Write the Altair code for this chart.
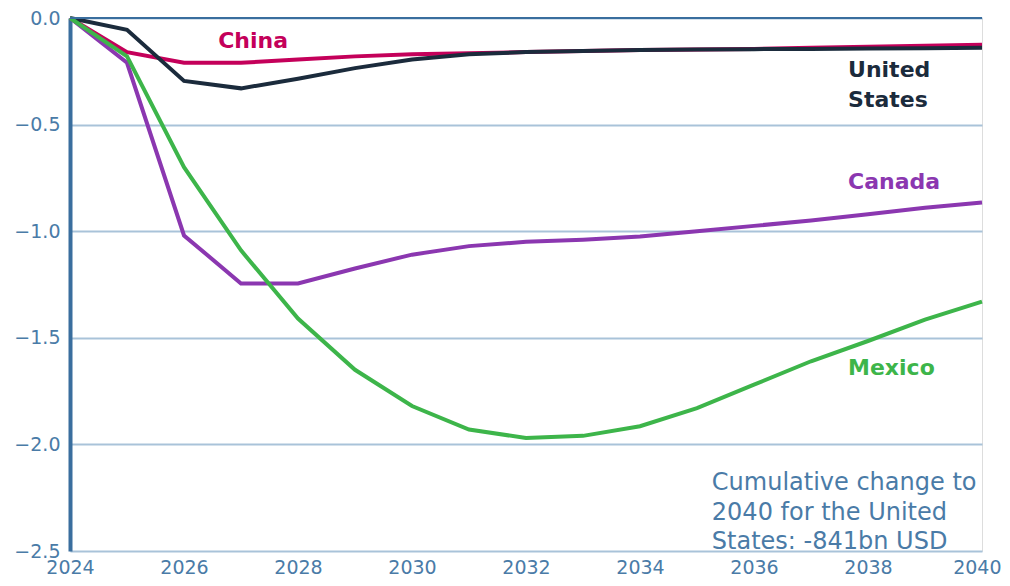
import altair as alt
import pandas as pd

years = list(range(2024, 2041))
china = [0, -0.16, -0.21, -0.21, -0.195, -0.18, -0.17, -0.165, -0.16, -0.155, -0.15, -0.148, -0.145, -0.14, -0.135, -0.13, -0.125]
usa = [0, -0.055, -0.295, -0.33, -0.285, -0.235, -0.195, -0.17, -0.16, -0.155, -0.15, -0.148, -0.146, -0.145, -0.143, -0.142, -0.14]
canada = [0, -0.21, -1.02, -1.245, -1.245, -1.175, -1.11, -1.07, -1.05, -1.04, -1.025, -1.0, -0.975, -0.95, -0.92, -0.89, -0.865]
mexico = [0, -0.18, -0.70, -1.09, -1.41, -1.65, -1.82, -1.93, -1.97, -1.96, -1.915, -1.83, -1.72, -1.61, -1.515, -1.415, -1.33]

series_names = ["China", "United States", "Canada", "Mexico"]
series_colors = ["#C4005A", "#1B2B3C", "#8B37B0", "#3DB54A"]

rows = []
for name, vals in zip(series_names, [china, usa, canada, mexico]):
    for yr, v in zip(years, vals):
        rows.append({"year": yr, "value": v, "country": name})
df = pd.DataFrame(rows)

label_text = ["China", "United\nStates", "Canada", "Mexico"]
label_x = [2026.6, 2037.65, 2037.65, 2037.65]
label_y = [-0.11, -0.245, -0.77, -1.64]
labels = pd.DataFrame({"country": series_names, "text": label_text, "x": label_x, "y": label_y})

note_text = "Cumulative change to\n2040 for the United\nStates: -841bn USD"
note = pd.DataFrame({"x": [2035.26], "y": [-2.182], "text": [note_text]})

axis_blue = "#4A7BA7"
grid_blue = "#A9C3D9"
dark_blue = "#3A6E9E"
font = "DejaVu Sans"

x_enc = alt.X("year:Q", scale=alt.Scale(domain=[2024, 2040], nice=False),
              axis=alt.Axis(values=list(range(2024, 2041, 2)), format="d", grid=False, domain=False,
                            ticks=False, labelFontSize=19, labelColor=axis_blue, labelPadding=7,
                            labelFlush=False, labelOverlap=False,
                            labelAlign=alt.condition("datum.value == 2040", alt.value("right"), alt.value("center")),
                            labelOffset=alt.condition("datum.value == 2040", alt.value(19), alt.value(0)),
                            labelFont=font, title=None))
y_enc = alt.Y("value:Q", scale=alt.Scale(domain=[-2.5, 0], nice=False),
              axis=alt.Axis(values=[0, -0.5, -1.0, -1.5, -2.0, -2.5], format=".1f", grid=True,
                            gridColor=grid_blue, gridWidth=2, domain=True, domainColor=dark_blue,
                            domainWidth=4, ticks=False, labelFontSize=19, labelColor=axis_blue,
                            labelPadding=10, labelFont=font, labelFlush=False, labelOverlap=False,
                            title=None))

color_scale = alt.Scale(domain=series_names, range=series_colors)

top = alt.Chart(pd.DataFrame({"value": [0]})).mark_rule(color=dark_blue, strokeWidth=2).encode(y="value:Q")

lines = alt.Chart(df).mark_line(strokeWidth=4, strokeJoin="miter").encode(
    x=x_enc, y=y_enc,
    color=alt.Color("country:N", scale=color_scale, legend=None),
    order="year:Q",
)

lab = alt.Chart(labels).mark_text(fontSize=22, fontWeight="bold", font=font, align="left",
                                   baseline="middle", lineBreak="\n", lineHeight=30).encode(
    x="x:Q", y="y:Q", text="text:N",
    color=alt.Color("country:N", scale=color_scale, legend=None),
)

nt = alt.Chart(note).mark_text(fontSize=24, font=font, align="left", baseline="middle",
                               lineBreak="\n", lineHeight=29.5, color=axis_blue).encode(
    x="x:Q", y="y:Q", text="text:N")

chart = alt.layer(lines, top, lab, nt).properties(
    width=912, height=533,
    autosize=alt.AutoSizeParams(type="none"),
    padding={"left": 62, "top": 10, "right": 20, "bottom": 27},
).configure_view(stroke=None).configure(background="white")

chart.save("out.html", embed_options={"renderer": "svg", "actions": False})
